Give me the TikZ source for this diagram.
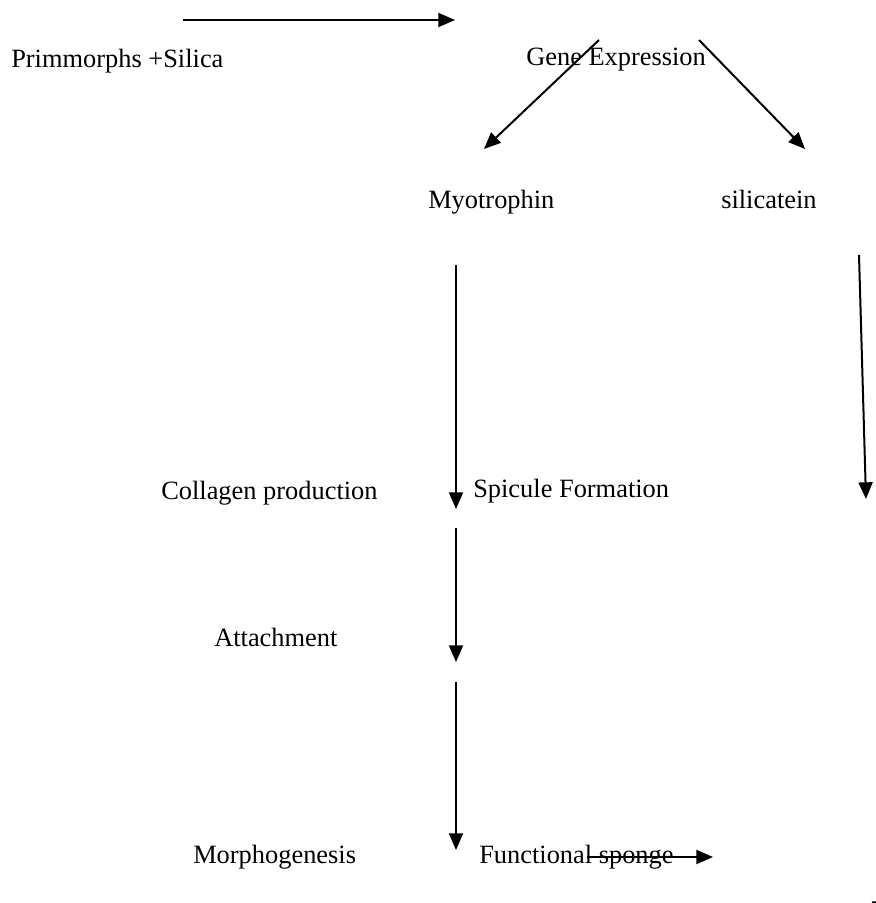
\documentclass[tikz,border=0pt]{standalone}
\usepackage{fontspec}
\setmainfont{Liberation Serif}
\usetikzlibrary{arrows.meta}

\begin{document}
\begin{tikzpicture}[
  x=0.75pt, y=-0.75pt,
  >={Triangle[length=12.5pt,width=10.5pt]},
  flow/.style={->, line width=1.5pt},
  lbl/.style={anchor=base west, inner sep=0pt, font=\fontsize{19.8}{22}\selectfont}
]
  \useasboundingbox (0,0) rectangle (875,903);

  % Labels
  \node[lbl] (prim)  at (11,67)   {Primmorphs +Silica};
  \node[lbl] (gene)  at (526,65)  {Gene Expression};
  \node[lbl] (myo)   at (428,208) {Myotrophin};
  \node[lbl] (sili)  at (721,208) {silicatein};
  \node[lbl] (coll)  at (161,499) {Collagen production};
  \node[lbl] (spic)  at (473,497) {Spicule Formation};
  \node[lbl] (att)   at (214,646) {Attachment};
  \node[lbl] (morph) at (193,863) {Morphogenesis};
  \node[lbl] (func)  at (479,863) {Functional sponge};

  % Arrow ends
  \coordinate (a1) at (183,20);  \coordinate (b1) at (455,20);
  \coordinate (a2) at (599,40);  \coordinate (b2) at (484,149);
  \coordinate (a3) at (699,40);  \coordinate (b3) at (805,149);
  \coordinate (a4) at (456,265); \coordinate (b4) at (456,509);
  \coordinate (a5) at (859,255); \coordinate (b5) at (866,499);
  \coordinate (a6) at (456,528); \coordinate (b6) at (456,662);
  \coordinate (a7) at (456,682); \coordinate (b7) at (456,850);
  \coordinate (a8) at (587,857); \coordinate (b8) at (713,857);
  \coordinate (a9) at (879,860); \coordinate (b9) at (879,918);

  \draw[flow] (a1) -- (b1);
  \draw[flow] (a2) -- (b2);
  \draw[flow] (a3) -- (b3);
  \draw[flow] (a4) -- (b4);
  \draw[flow] (a5) -- (b5);
  \draw[flow] (a6) -- (b6);
  \draw[flow] (a7) -- (b7);
  \draw[flow] (a8) -- (b8);
  \draw[flow] (a9) -- (b9);
\end{tikzpicture}
\end{document}
